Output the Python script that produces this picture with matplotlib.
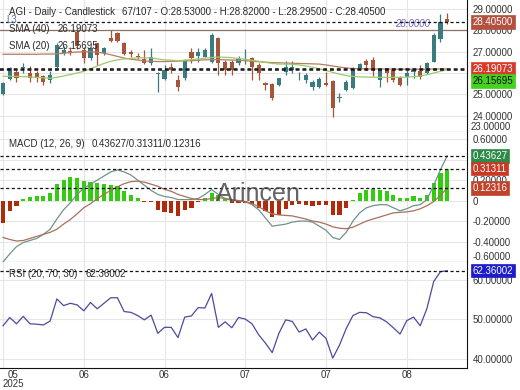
#!/usr/bin/env python
""" AGI daily candlestick with SMA, MACD and RSI panels """

import numpy as np
import matplotlib
matplotlib.use("Agg")
import matplotlib.pyplot as plt

plt.rcParams["font.family"] = ["Liberation Sans", "DejaVu Sans"]

# Candles (67 visible bars)
opens = [25.02, 25.70, 26.06, 26.22, 25.98, 26.02, 25.86, 25.67, 26.30, 26.95,
         27.05, 27.95, 27.08, 26.69, 27.39, 26.92, 27.63, 27.89, 27.39, 27.00,
         26.80, 26.64, 26.45, 25.95, 25.70, 26.30, 25.67, 25.75, 27.00, 26.80,
         26.77, 26.53, 27.63, 26.53, 26.53, 26.45, 26.60, 26.69, 26.38, 25.55,
         25.48, 25.44, 26.06, 26.14, 25.85, 25.67, 25.33, 25.33, 25.52, 25.64,
         24.85, 25.20, 25.28, 26.22, 26.58, 26.61, 25.67, 26.14, 26.14, 25.80,
         25.80, 26.06, 26.11, 25.98, 26.53, 27.58, 28.53]
highs = [25.58, 26.26, 26.14, 26.48, 26.33, 26.11, 25.91, 26.11, 27.39, 27.25,
         27.20, 28.10, 27.23, 27.23, 27.39, 27.23, 28.02, 27.94, 27.47, 27.08,
         26.92, 27.08, 27.16, 26.06, 26.38, 26.45, 25.91, 26.64, 27.16, 27.16,
         27.16, 27.86, 27.67, 26.61, 26.61, 26.80, 27.11, 26.73, 26.45, 25.59,
         25.52, 25.75, 26.58, 26.58, 26.06, 25.98, 25.67, 25.83, 26.06, 25.67,
         25.05, 25.67, 26.30, 26.48, 26.64, 26.73, 26.17, 26.22, 26.17, 25.86,
         26.14, 26.22, 26.38, 26.53, 27.86, 28.77, 28.82]
lows = [24.98, 25.66, 25.59, 26.02, 25.59, 25.59, 25.44, 25.52, 26.22, 26.85,
        26.84, 27.15, 26.45, 26.62, 26.38, 26.84, 27.47, 27.47, 26.84, 26.77,
        26.64, 26.42, 26.38, 25.13, 25.67, 25.98, 25.17, 25.67, 26.45, 26.53,
        26.73, 26.45, 25.91, 25.91, 25.91, 26.38, 26.42, 25.67, 25.67, 25.20,
        24.73, 25.39, 25.91, 25.98, 25.67, 25.52, 25.20, 25.28, 25.39, 23.95,
        24.66, 25.17, 25.23, 26.14, 26.14, 25.86, 25.33, 25.59, 25.59, 25.39,
        25.44, 25.75, 25.70, 25.95, 26.53, 27.47, 28.295]
closes = [25.52, 26.22, 25.75, 26.30, 25.75, 25.78, 25.59, 25.91, 27.31, 27.10,
          26.98, 27.25, 26.69, 27.16, 26.84, 27.16, 27.52, 27.52, 26.89, 26.89,
          26.73, 26.45, 26.77, 26.02, 26.14, 26.14, 25.33, 26.61, 26.69, 27.00,
          27.08, 27.78, 26.45, 26.14, 26.14, 26.64, 26.62, 26.30, 25.98, 25.44,
          24.81, 25.75, 26.30, 26.30, 25.87, 25.91, 25.59, 25.70, 25.44, 24.34,
          24.88, 25.59, 26.22, 26.42, 26.38, 26.14, 26.14, 26.02, 25.67, 25.44,
          26.02, 26.14, 25.80, 26.45, 27.78, 28.41, 28.405]

sma40 = [26.88, 26.88, 26.88, 26.88, 26.88, 26.88, 26.89, 26.89, 26.90, 26.93,
         26.96, 26.99, 27.00, 27.00, 26.98, 26.93, 26.86, 26.78, 26.70, 26.65,
         26.61, 26.57, 26.55, 26.54, 26.54, 26.55, 26.56, 26.57, 26.58, 26.60,
         26.62, 26.63, 26.63, 26.62, 26.61, 26.60, 26.58, 26.55, 26.53, 26.51,
         26.49, 26.48, 26.47, 26.46, 26.45, 26.44, 26.43, 26.42, 26.38, 26.33,
         26.28, 26.24, 26.21, 26.20, 26.20, 26.19, 26.19, 26.19, 26.19, 26.18,
         26.18, 26.18, 26.18, 26.18, 26.19, 26.19, 26.19073]
sma20 = [25.85, 25.85, 25.84, 25.83, 25.82, 25.80, 25.77, 25.75, 25.80, 25.86,
         25.93, 26.00, 26.08, 26.20, 26.33, 26.45, 26.55, 26.62, 26.66, 26.69,
         26.71, 26.72, 26.70, 26.66, 26.62, 26.60, 26.58, 26.60, 26.63, 26.66,
         26.70, 26.73, 26.75, 26.74, 26.72, 26.68, 26.65, 26.60, 26.55, 26.50,
         26.45, 26.42, 26.42, 26.41, 26.38, 26.33, 26.27, 26.20, 26.12, 26.03,
         25.95, 25.88, 25.84, 25.82, 25.81, 25.80, 25.80, 25.80, 25.80, 25.80,
         25.81, 25.83, 25.86, 25.92, 26.00, 26.08, 26.15695]

macd = [-0.60, -0.52, -0.45, -0.41, -0.39, -0.37, -0.33, -0.28, -0.18, -0.09,
        -0.02, 0.06, 0.12, 0.16, 0.20, 0.24, 0.28, 0.30, 0.28, 0.25,
        0.20, 0.15, 0.10, 0.06, 0.04, 0.03, 0.01, 0.01, 0.01, 0.02,
        0.06, 0.107, 0.06, 0.02, 0.00, 0.00, -0.01, -0.04, -0.09, -0.17,
        -0.25, -0.24, -0.23, -0.21, -0.20, -0.20, -0.21, -0.25, -0.29, -0.36,
        -0.38, -0.31, -0.20, -0.12, -0.07, -0.05, -0.04, -0.04, -0.07, -0.10,
        -0.08, -0.05, -0.04, 0.01, 0.15, 0.30, 0.43627]
signal = [-0.36, -0.38, -0.395, -0.39, -0.37, -0.35, -0.33, -0.31, -0.28, -0.23,
          -0.185, -0.13, -0.07, -0.03, 0.02, 0.06, 0.10, 0.135, 0.165, 0.185,
          0.19, 0.18, 0.16, 0.14, 0.11, 0.09, 0.06, 0.04, 0.02, 0.01,
          0.01, 0.02, 0.03, 0.02, 0.01, 0.00, -0.01, -0.03, -0.06, -0.10,
          -0.13, -0.14, -0.145, -0.15, -0.165, -0.18, -0.20, -0.21, -0.23, -0.256,
          -0.27, -0.275, -0.26, -0.23, -0.20, -0.18, -0.16, -0.14, -0.12, -0.115,
          -0.11, -0.10, -0.08, -0.05, -0.01, 0.05, 0.12316]
hist = [-0.223, -0.10, -0.055, 0.016, 0.032, 0.04, 0.049, 0.074, 0.16, 0.20,
        0.227, 0.22, 0.188, 0.18, 0.17, 0.16, 0.155, 0.14, 0.097, 0.058,
        0.026, -0.013, -0.015, -0.094, -0.113, -0.12, -0.152, -0.094, -0.07, -0.01,
        0.026, 0.074, 0.05, 0.02, -0.02, -0.02, -0.025, -0.03, -0.07, -0.10,
        -0.165, -0.14, -0.087, -0.04, -0.03, -0.04, -0.055, -0.04, -0.04, -0.136,
        -0.136, -0.07, 0.01, 0.074, 0.107, 0.113, 0.107, 0.09, 0.058, 0.026,
        0.026, 0.042, 0.026, 0.058, 0.171, 0.268, 0.31311]

rsi = [48.4, 50.5, 48.9, 50.8, 48.9, 48.8, 48.6, 49.6, 55.2, 53.5,
       54.1, 53.7, 52.2, 54.3, 52.7, 54.1, 55.5, 55.5, 52.0, 51.8,
       51.0, 49.9, 51.1, 46.5, 48.0, 48.0, 45.4, 50.6, 50.9, 53.0,
       52.9, 56.6, 48.0, 49.4, 47.9, 50.5, 50.1, 48.9, 46.1, 44.0,
       41.6, 46.5, 49.9, 49.5, 46.8, 47.6, 44.8, 46.8, 45.2, 40.2,
       43.5, 47.7, 51.0, 51.8, 51.7, 50.7, 50.4, 49.4, 47.9, 46.3,
       49.7, 50.6, 48.4, 52.8, 59.6, 62.1, 62.36002]

date_ticks = [0, 12, 24, 36, 48, 60]
date_labels = ["", "06", "06", "07", "07", "08"]

price_ticks = [24, 25, 26, 27, 28, 29]
macd_ticks = [-0.6, -0.4, -0.2, 0, 0.2, 0.4, 0.6]
rsi_ticks = [40, 50, 60]

level_line = 28.0

UP = "#3b7a7e"
DOWN = "#a5553a"
GRID = "#e6e6e6"
TXT = "#2a2a2a"


def fmt(v):
    return "0" if v == 0 else "%.5f" % v


def style(ax, ticks, bottom_col="#666666"):
    ax.set_xlim(-0.45, 68.95)
    ax.set_yticks(ticks)
    ax.set_yticklabels([fmt(t) for t in ticks])
    ax.set_xticks(date_ticks)
    ax.grid(True, color=GRID, lw=0.8)
    ax.set_axisbelow(True)
    ax.yaxis.tick_right()
    ax.tick_params(axis="y", length=0, pad=4, labelsize=7, labelcolor="#333333")
    ax.tick_params(axis="x", length=0, labelbottom=False)
    for s in ("left", "top"):
        ax.spines[s].set_visible(False)
    ax.spines["right"].set_color("#111111")
    ax.spines["bottom"].set_color(bottom_col)
    ax.spines["bottom"].set_linewidth(0.8)


def value_box(ax, v, fc, tc="white", dy=0):
    ax.annotate(fmt(v), xy=(1, v), xycoords=ax.get_yaxis_transform(),
                xytext=(4, dy), textcoords="offset points", ha="left",
                va="center", fontsize=7, color=tc, zorder=10,
                bbox=dict(boxstyle="square,pad=0.18", fc=fc, ec=fc, lw=0.5))


def main():
    x = np.arange(len(closes))
    fig = plt.figure(figsize=(5.2, 3.9), dpi=100)
    W, H = 520.0, 390.0
    axw = 467 / W
    ax1 = fig.add_axes([0, 1 - 132 / H, axw, 132 / H])
    ax2 = fig.add_axes([0, 1 - 262 / H, axw, 130 / H])
    ax3 = fig.add_axes([0, 1 - 368 / H, axw, 106 / H])

    # --- price panel
    style(ax1, price_ticks)
    ax1.set_ylim(23.23, 29.43)
    o, c = np.array(opens), np.array(closes)
    cols = [UP if cc >= oo else DOWN for oo, cc in zip(o, c)]
    ax1.vlines(x, lows, highs, colors=cols, lw=0.9, zorder=3)
    ax1.bar(x, np.maximum(np.abs(c - o), 0.03), bottom=np.minimum(o, c),
            width=0.62, color=cols, zorder=4)
    ax1.plot(x, sma40, color="#b87a62", lw=0.9, zorder=5)
    ax1.plot(x, sma20, color="#9acb6a", lw=0.9, zorder=5)
    ax1.axhline(level_line, color="#8c7468", lw=0.9, zorder=2)
    ax1.text(58.3, level_line + 0.08, "28.0000", color="#6a66c8", fontsize=7,
             style="italic", va="bottom", zorder=6)
    for v, lw in ((closes[-1], 0.9), (sma40[-1], 1.1), (sma20[-1], 1.1)):
        ax1.axhline(v, color="#111111", ls=(0, (2.5, 2)), lw=lw, zorder=6)
    ax1.text(1.0 + 4 / 467, 23.23, "23.00000", transform=ax1.get_yaxis_transform(),
             fontsize=7, color="#333333", va="bottom", ha="left")
    value_box(ax1, closes[-1], "#b4503f")
    value_box(ax1, sma40[-1], "#d93a2c")
    value_box(ax1, sma20[-1], "#45d11f", tc="#111111", dy=-8)

    # --- MACD panel
    style(ax2, macd_ticks)
    ax2.set_ylim(-0.6, 0.67)
    ax2.get_yticklabels()[0].set_va("bottom")
    hcols = ["#33cc11" if h >= 0 else "#b02a0c" for h in hist]
    ax2.bar(x, hist, width=0.62, color=hcols, zorder=3)
    ax2.plot(x, macd, color="#6f9486", lw=0.9, zorder=4)
    ax2.plot(x, signal, color="#a8705c", lw=0.9, zorder=4)
    for v in (macd[-1], hist[-1], signal[-1]):
        ax2.axhline(v, color="#111111", ls=(0, (2.5, 2)), lw=0.9, zorder=5)
    value_box(ax2, macd[-1], "#2f8a4a")
    value_box(ax2, hist[-1], "#c83a26")
    value_box(ax2, signal[-1], "#c0442c")
    ax2.text(31.6, -0.005, "Arincen", fontsize=18, color="#4a4a4a", alpha=0.85,
             va="baseline", ha="left", zorder=6)

    # --- RSI panel
    style(ax3, rsi_ticks, bottom_col="#111111")
    ax3.set_ylim(37.7, 64.56)
    ax3.plot(x, rsi, color="#4d4a9c", lw=0.9, zorder=4)
    ax3.axhline(rsi[-1], color="#111111", ls=(0, (2.5, 2)), lw=0.9, zorder=5)
    value_box(ax3, rsi[-1], "#1c1ccc")
    ax3.tick_params(axis="x", labelbottom=True, labelsize=7, pad=1.5,
                    labelcolor="#333333")
    ax3.set_xticklabels(date_labels)

    # --- header texts
    def ftext(px, py, s, **kw):
        kw.setdefault("fontsize", 7)
        kw.setdefault("color", TXT)
        kw.setdefault("ha", "left")
        fig.text(px / W, 1 - py / H, s, va="center", zorder=20, **kw)

    # first date label sits off its tick so it is not clipped
    ftext(12.5, 375, "05", color="#333333", ha="center")
    ftext(13.5, 384, "2025", color="#333333", ha="center")

    ftext(9, 12, "AGI - Daily - Candlestick")
    ftext(122, 12, "67/107 - O:28.53000 - H:28.82000 - L:28.29500 - C:28.40500")
    ftext(6, 20, "L3", color="#5a6cb0")
    ftext(9, 29.5, "SMA (40)")
    ftext(58, 29.5, "26.19073")
    ftext(9, 46, "SMA (20)")
    ftext(58, 46, "26.15695")
    ftext(9, 144, "MACD (12, 26, 9)")
    ftext(92, 144, "0.43627/0.31311/0.12316")
    ftext(9, 274, "RSI (20, 70, 30)")
    ftext(86, 274, "62.36002")

    fig.savefig("out.png", dpi=100)


if __name__ == "__main__":
    main()
